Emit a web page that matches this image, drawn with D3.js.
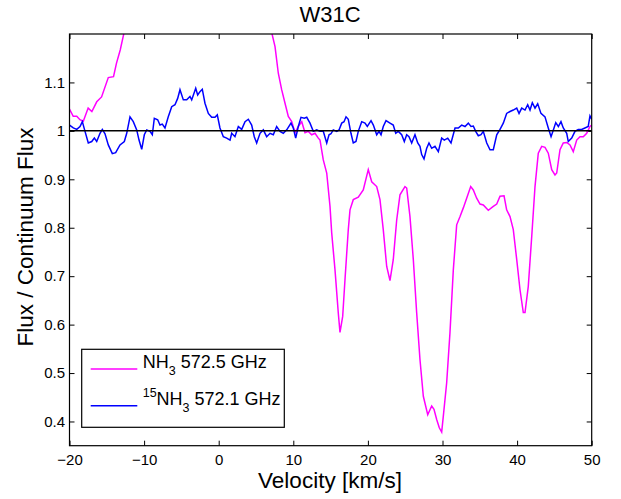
<!DOCTYPE html>
<html><head><meta charset="utf-8">
<script src="https://cdn.jsdelivr.net/npm/d3@7"></script>
<style>body{margin:0;background:#fff}svg{font-family:"Liberation Sans",Arial,Helvetica,sans-serif}</style>
</head><body><svg id="c" width="621" height="499"></svg>
<script>
const title = "W31C";
const xLabel = "Velocity [km/s]";
const yLabel = "Flux / Continuum Flux";
const xTicks = [-20,-10,0,10,20,30,40,50];
const yTicks = [0.4,0.5,0.6,0.7,0.8,0.9,1,1.1];
const continuum = 1;

const nh3V = [-20,-19.5,-19.03,-18.6,-18.15,-17.5,-17.0,-16.35,-15.7,-14.8,-14.1,-13.7,-13.2,-12.8,-12.3,-11.5,6.5,7.18,7.55,7.99,8.44,8.89,9.33,9.79,10.23,10.67,11.13,11.57,12.01,12.47,12.91,13.35,13.58,14.02,14.48,14.92,15.15,15.59,16.03,16.26,16.62,16.93,17.37,17.6,18.04,18.71,19.38,20.05,20.51,21.18,21.62,22.06,22.52,22.96,23.4,23.86,24.3,24.97,25.2,25.64,26.09,26.54,26.98,27.43,28.02,28.55,28.86,29.22,29.57,29.89,30.11,30.56,31.0,31.45,31.9,32.35,32.79,33.24,33.78,34.13,34.58,35.03,35.47,36.14,36.81,37.27,37.71,38.25,38.6,39.05,39.49,39.95,40.39,40.83,41.06,41.5,41.96,42.4,42.84,43.3,43.74,44.18,44.64,45.08,45.31,45.75,46.19,46.65,47.09,47.53,47.99,48.43,48.87,49.33,49.77,50];
const nh3F = [1.045,1.03,1.03,1.023,1.02,1.047,1.04,1.06,1.07,1.11,1.112,1.14,1.167,1.195,1.23,1.28,1.28,1.198,1.174,1.119,1.085,1.057,1.03,1.019,0.996,1.009,1.019,0.996,0.999,0.992,0.995,0.985,0.981,0.94,0.913,0.844,0.789,0.713,0.624,0.584,0.617,0.693,0.796,0.837,0.858,0.863,0.878,0.92,0.895,0.885,0.858,0.796,0.72,0.691,0.734,0.816,0.868,0.885,0.882,0.823,0.734,0.624,0.528,0.452,0.414,0.432,0.425,0.404,0.387,0.378,0.411,0.48,0.583,0.713,0.806,0.823,0.841,0.861,0.885,0.878,0.861,0.849,0.847,0.836,0.844,0.849,0.865,0.866,0.837,0.823,0.796,0.734,0.672,0.625,0.625,0.679,0.782,0.885,0.954,0.968,0.966,0.954,0.92,0.909,0.913,0.961,0.975,0.976,0.971,0.957,0.981,0.988,0.988,0.995,1.009,1.012];

const n15V = [-20,-19.49,-19.03,-18.59,-18.28,-17.92,-17.48,-17.02,-16.67,-16.35,-15.91,-15.6,-15.24,-14.8,-14.26,-13.81,-13.23,-12.65,-12.33,-11.89,-11.45,-10.99,-10.68,-10.32,-9.97,-9.65,-9.21,-8.9,-8.63,-8.18,-7.87,-7.56,-7.2,-6.76,-6.3,-5.86,-5.5,-5.19,-4.74,-4.29,-3.85,-3.62,-3.08,-2.82,-2.51,-2.2,-1.84,-1.39,-0.94,-0.5,-0.19,0.17,0.62,1.07,1.52,1.74,2.18,2.63,3.08,3.53,3.97,4.42,4.77,5.09,5.54,5.98,6.43,6.88,7.32,7.77,8.22,8.66,9.12,9.69,10.0,10.32,10.67,11.03,11.48,11.8,12.24,12.68,13.14,13.58,14.02,14.48,14.79,15.05,15.36,15.82,16.13,16.49,16.8,17.07,17.37,17.73,18.04,18.4,18.71,19.17,19.61,19.92,20.42,20.73,21.18,21.49,21.76,22.06,22.43,22.96,23.4,23.73,24.07,24.53,24.88,25.2,25.51,25.87,26.31,26.68,26.98,27.21,27.52,27.88,28.19,28.55,28.99,29.44,29.89,30.24,30.7,31.14,31.68,32.12,32.57,33.02,33.46,33.82,34.13,34.45,34.8,35.16,35.47,35.93,36.37,36.81,37.27,37.71,38.15,38.6,39.05,39.49,39.95,40.26,40.62,41.06,41.42,41.73,42.04,42.4,42.76,43.2,43.74,44.18,44.55,44.86,45.18,45.53,45.88,46.19,46.65,46.86,47.32,47.76,48.2,48.65,49.09,49.53,49.77,50];
const n15F = [1.012,1.006,1.003,1.009,1.019,0.999,0.975,0.978,0.985,0.978,0.995,1.003,0.994,0.971,0.953,0.955,0.971,0.978,0.995,1.029,1.019,1.002,0.981,0.962,0.992,1.002,0.999,0.992,1.026,1.023,1.012,1.014,1.006,1.029,1.05,1.054,1.067,1.085,1.064,1.064,1.071,1.064,1.088,1.074,1.081,1.086,1.057,1.036,1.028,1.028,1.033,1.006,0.988,0.985,0.981,0.995,0.988,1.009,1.003,1.019,1.024,1.012,0.988,0.975,0.995,1.002,0.988,0.995,0.992,1.009,0.999,0.995,1.002,1.016,1.006,0.985,1.009,1.028,1.026,1.028,1.016,0.999,1.002,0.999,0.999,0.975,0.992,0.994,1.002,0.999,1.002,1.016,1.019,1.029,1.024,0.995,0.975,0.978,0.999,1.019,1.016,1.009,1.021,1.012,0.992,0.999,0.992,1.009,1.021,1.016,1.012,0.995,0.999,0.992,0.978,0.992,0.988,0.975,0.992,0.975,0.968,0.951,0.942,0.964,0.975,0.964,0.968,0.957,0.985,0.981,0.985,0.975,1.006,1.006,1.012,1.009,1.016,1.009,1.01,0.999,0.99,0.992,0.999,0.975,0.961,0.961,0.992,1.003,1.016,1.036,1.04,1.043,1.047,1.036,1.047,1.043,1.054,1.043,1.058,1.047,1.056,1.036,1.029,1.006,0.988,1.002,1.017,1.009,1.019,1.006,0.995,0.978,0.985,0.999,1.003,1.003,1.006,1.009,1.031,1.024];

const margin = {l:69.5, r:591.7, t:34, b:445.7};
const svg = d3.select("#c");
const x = d3.scaleLinear().domain([-20,50]).range([margin.l, margin.r]);
const y = d3.scaleLinear().domain([0.35,1.2]).range([margin.b, margin.t]);

svg.append("defs").append("clipPath").attr("id","clip").append("rect")
  .attr("x",margin.l).attr("y",margin.t).attr("width",margin.r-margin.l).attr("height",margin.b-margin.t);

const tl = 5;
const axB = d3.axisBottom(x).tickValues(xTicks).tickSize(-tl).tickPadding(9).tickFormat(d=>d<0?"\u2212"+Math.abs(d):d);
const axT = d3.axisTop(x).tickValues(xTicks).tickSize(-tl).tickFormat("");
const axL = d3.axisLeft(y).tickValues(yTicks).tickSize(-tl).tickPadding(4.5).tickFormat(d=>d3.format("")(+d.toFixed(1)));
const axR = d3.axisRight(y).tickValues(yTicks).tickSize(-tl).tickFormat("");

function style(g){ g.select(".domain").remove(); g.selectAll("line").attr("stroke","#000"); g.selectAll("text").attr("font-size",15).attr("fill","#000"); }
svg.append("g").attr("transform",`translate(0,${margin.b})`).call(axB).call(style);
svg.append("g").attr("transform",`translate(0,${margin.t})`).call(axT).call(style);
svg.append("g").attr("transform",`translate(${margin.l},0)`).call(axL).call(style);
svg.append("g").attr("transform",`translate(${margin.r},0)`).call(axR).call(style);

const plot = svg.append("g").attr("clip-path","url(#clip)");
const line = d3.line().x(d=>x(d[0])).y(d=>y(d[1]));
plot.append("path").datum(nh3V.map((v,i)=>[v,nh3F[i]])).attr("d",line).attr("fill","none").attr("stroke","#ff00ff").attr("stroke-width",1.5);
plot.append("path").datum(n15V.map((v,i)=>[v,n15F[i]])).attr("d",line).attr("fill","none").attr("stroke","#0000ff").attr("stroke-width",1.5);
plot.append("path").datum([[-20,continuum],[50,continuum]]).attr("d",line).attr("fill","none").attr("stroke","#000").attr("stroke-width",1.5);

svg.append("rect").attr("x",margin.l).attr("y",margin.t).attr("width",margin.r-margin.l).attr("height",margin.b-margin.t)
  .attr("fill","none").attr("stroke","#000").attr("stroke-width",1.2);

svg.append("text").attr("x",330).attr("y",21.5).attr("text-anchor","middle").attr("font-size",22).text(title);
svg.append("text").attr("x",330).attr("y",488).attr("text-anchor","middle").attr("font-size",22.5).text(xLabel);
svg.append("text").attr("transform",`translate(33,237) rotate(-90)`).attr("text-anchor","middle").attr("font-size",22.5).text(yLabel);

// legend
const lg = svg.append("g");
lg.append("rect").attr("x",81.7).attr("y",349.3).attr("width",202.6).attr("height",78).attr("fill","#fff").attr("stroke","#000").attr("stroke-width",1.2);
const items = [{c:"#ff00ff", ly:369, ty:368.3, pre:"", txt:" 572.5 GHz"},{c:"#0000ff", ly:405.7, ty:405, pre:"15", txt:" 572.1 GHz"}];
items.forEach(it=>{
  lg.append("line").attr("x1",90.7).attr("x2",137.3).attr("y1",it.ly).attr("y2",it.ly).attr("stroke",it.c).attr("stroke-width",1.5);
  const t = lg.append("text").attr("x",142.7).attr("y",it.ty).attr("font-size",18).attr("fill","#000");
  if(it.pre) t.append("tspan").attr("font-size",12.5).attr("dy",-8).text(it.pre);
  t.append("tspan").attr("dy",it.pre?8:0).text("NH");
  t.append("tspan").attr("font-size",12.5).attr("dy",7).text("3");
  t.append("tspan").attr("dy",-7).text(it.txt);
});
</script></body></html>
